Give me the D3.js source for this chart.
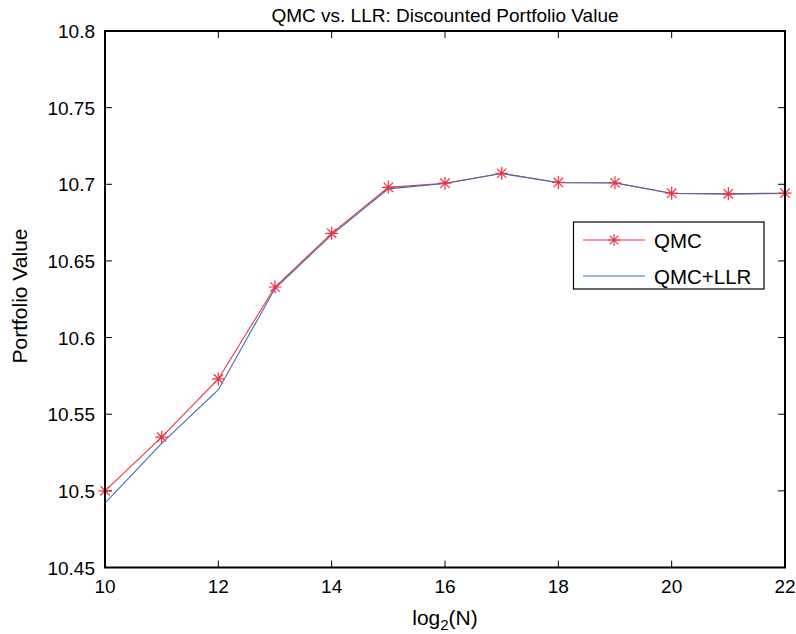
<!DOCTYPE html>
<html><head><meta charset="utf-8">
<script src="https://cdn.jsdelivr.net/npm/d3@7"></script>
<style>body{margin:0;background:#fff}svg{display:block}text{font-family:"Liberation Sans",Arial,Helvetica,sans-serif;fill:#000}</style>
</head><body>
<script>
const xs = [10,11,12,13,14,15,16,17,18,19,20,21,22];
const qmc = [10.500,10.535,10.573,10.633,10.668,10.698,10.7007,10.7072,10.7012,10.7010,10.6942,10.6938,10.6942];
const qmcllr = [10.492,10.531,10.566,10.632,10.667,10.697,10.7005,10.7070,10.7010,10.7008,10.6940,10.6936,10.6940];
const xTicks = [10,12,14,16,18,20,22];
const yTicks = [10.45,10.5,10.55,10.6,10.65,10.7,10.75,10.8];
const W=796,H=634, L=105,R=785,T=31,B=567.5;
const svg=d3.select("body").append("svg").attr("width",W).attr("height",H);
const x=d3.scaleLinear().domain([10,22]).range([L,R]);
const y=d3.scaleLinear().domain([10.45,10.8]).range([B,T]);
const tk=7, fs=19;
const g=svg.append("g");
xTicks.forEach(v=>{
  g.append("line").attr("x1",x(v)).attr("x2",x(v)).attr("y1",B).attr("y2",B-tk).attr("stroke","#000");
  g.append("line").attr("x1",x(v)).attr("x2",x(v)).attr("y1",T).attr("y2",T+tk).attr("stroke","#000");
  g.append("text").attr("x",x(v)).attr("y",B+25).attr("text-anchor","middle").attr("font-size",fs).text(v);
});
yTicks.forEach(v=>{
  g.append("line").attr("x1",L).attr("x2",L+tk).attr("y1",y(v)).attr("y2",y(v)).attr("stroke","#000");
  g.append("line").attr("x1",R).attr("x2",R-tk).attr("y1",y(v)).attr("y2",y(v)).attr("stroke","#000");
  g.append("text").attr("x",L-10).attr("y",y(v)+7).attr("text-anchor","end").attr("font-size",fs).text(d3.format("")(v));
});
const line=d3.line().x((d,i)=>x(xs[i])).y(d=>y(d));
svg.append("path").datum(qmc).attr("d",line).attr("fill","none").attr("stroke","#ee3340").attr("stroke-width",1.1);
svg.append("path").datum(qmcllr).attr("d",line).attr("fill","none").attr("stroke","#3b6fb8").attr("stroke-width",1.1);
function star(sel,cx,cy,r){
  const a=r*0.72;
  const p=`M${cx-r},${cy}L${cx+r},${cy}M${cx},${cy-r}L${cx},${cy+r}M${cx-a},${cy-a}L${cx+a},${cy+a}M${cx-a},${cy+a}L${cx+a},${cy-a}`;
  sel.append("path").attr("d",p).attr("stroke","#ee3340").attr("stroke-width",1.2).attr("fill","none");
}
const sg=svg.append("g");
qmc.forEach((v,i)=>star(sg,x(xs[i]),y(v),6.5));
svg.append("rect").attr("x",L).attr("y",T).attr("width",R-L).attr("height",B-T).attr("fill","none").attr("stroke","#000").attr("stroke-width",2);
svg.append("text").attr("x",(L+R)/2).attr("y",22).attr("text-anchor","middle").attr("font-size",19).text("QMC vs. LLR: Discounted Portfolio Value");
const xl=svg.append("text").attr("x",(L+R)/2).attr("y",625).attr("text-anchor","middle").attr("font-size",21);
xl.append("tspan").text("log");
xl.append("tspan").attr("font-size",15).attr("dy",5).text("2");
xl.append("tspan").attr("dy",-5).text("(N)");
svg.append("text").attr("transform",`translate(27,296) rotate(-90)`).attr("text-anchor","middle").attr("font-size",21).text("Portfolio Value");
const lg=svg.append("g");
lg.append("rect").attr("x",573.5).attr("y",222).attr("width",190.5).attr("height",67).attr("fill","#fff").attr("stroke","#000").attr("stroke-width",1.2);
const rows=[{n:"QMC",c:"#ee3340",m:true,y:240},{n:"QMC+LLR",c:"#3b6fb8",m:false,y:276}];
rows.forEach(r=>{
  lg.append("line").attr("x1",583).attr("x2",645).attr("y1",r.y).attr("y2",r.y).attr("stroke",r.c).attr("stroke-width",1.1);
  if(r.m) star(lg,614,r.y,6);
  lg.append("text").attr("x",654).attr("y",r.y+7.5).attr("font-size",20.5).text(r.n);
});
</script>
</body></html>
